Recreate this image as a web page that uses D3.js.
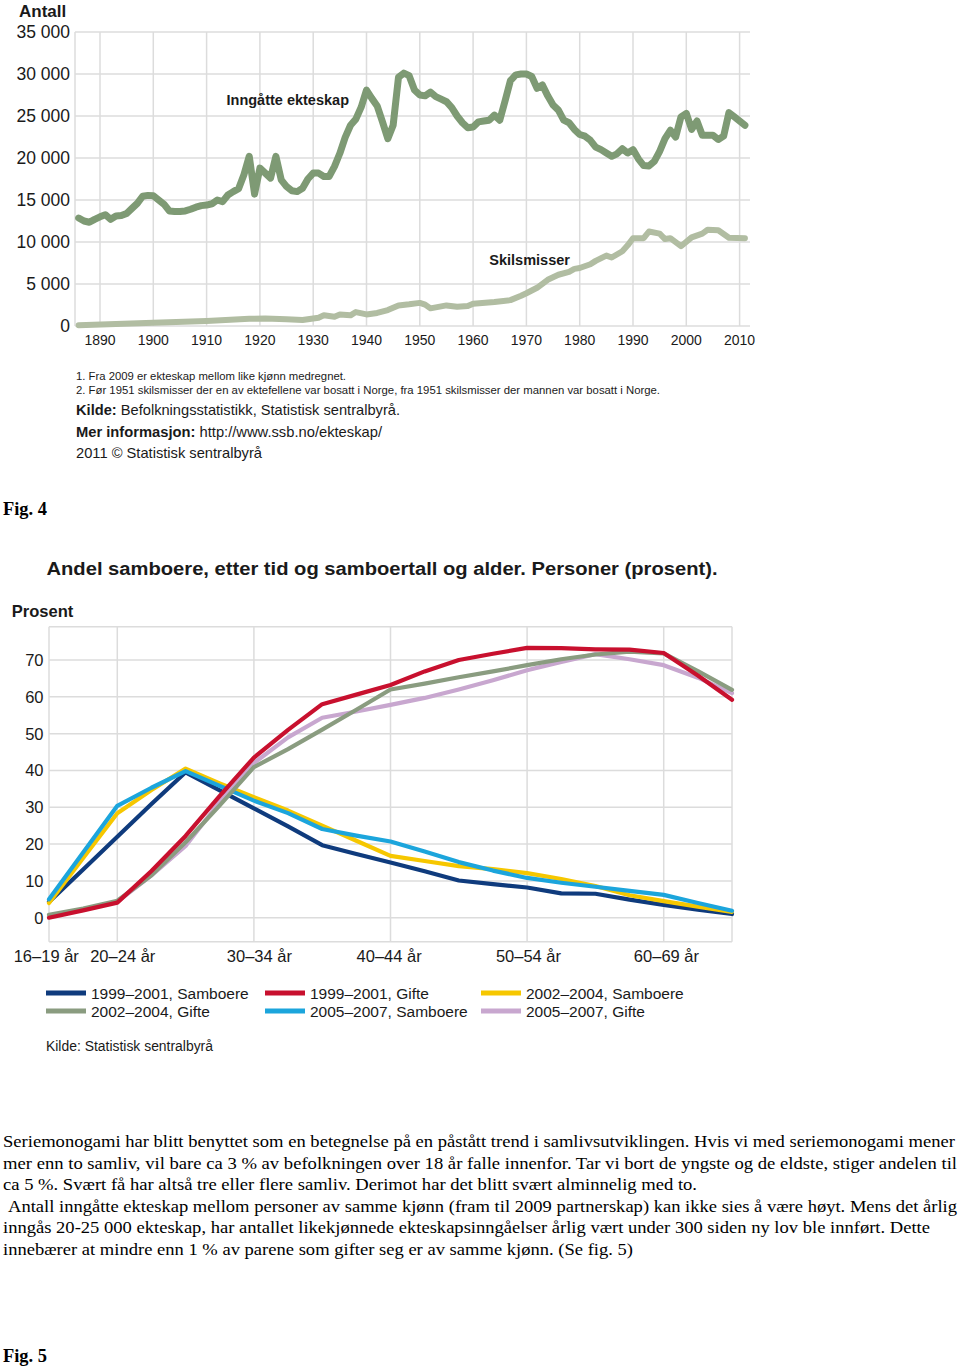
<!DOCTYPE html>
<html><head><meta charset="utf-8">
<script src="https://cdn.jsdelivr.net/npm/d3@7"></script>
<style>body{margin:0;background:#fff}svg{display:block}</style>
</head><body>
<svg id="c" width="960" height="1367"></svg>
<script>
// ---------- Chart 1 data: marriages (annual from 1886) and divorces ----------
const marriageStartYear = 1886;
const marriages = [
  12850,12500,12350,12700,13000,13250,12700,13100,13150,13400,
  14000,14600,15450,15550,15500,15000,14500,13700,13640,13640,
  13700,13900,14150,14330,14400,14550,15000,14800,15600,16000,
  16350,18000,20200,15700,18800,18200,17600,20200,17400,16600,
  16100,16000,16400,17500,18200,18200,17800,17800,19000,20560,
  22460,23900,24630,26050,28080,27100,26200,24300,22300,23900,
  29600,30100,29800,28100,27500,27400,27850,27300,27000,26700,
  26000,25000,24200,23600,23700,24300,24400,24500,25100,24500,
  26800,29200,29900,30000,30000,29700,28300,28700,27400,26300,
  25700,24500,24200,23400,22800,22600,22100,21300,21000,20600,
  20200,20500,21100,20600,21000,19900,19100,19060,19600,20800,
  22300,23300,22500,24900,25300,23400,24400,22700,22700,22700,
  22200,22600,25400,24900,24400,23900
];
const divorceYears = [1886,1900,1910,1918,1921,1925,1928,1931,1932,1934,1935,1937,1938,1940,1942,1944,1946,1948,1950,1951,1952,1955,1957,1959,1960,1964,1967,1969,1970,1972,1974,1976,1978,1979,1980,1982,1983,1985,1986,1988,1989,1990,1992,1993,1995,1996,1997,1999,2001,2003,2004,2006,2008,2011];
const divorces =     [100,400,600,870,880,800,710,990,1270,1110,1380,1270,1660,1380,1550,1900,2450,2580,2750,2550,2100,2450,2300,2370,2650,2850,3080,3600,3900,4550,5500,6100,6450,6800,6900,7350,7750,8380,8150,8900,9600,10450,10450,11250,11000,10350,10450,9500,10550,11000,11450,11400,10500,10450];
const yTicks1 = [0,5000,10000,15000,20000,25000,30000,35000];
const xTicks1 = [1890,1900,1910,1920,1930,1940,1950,1960,1970,1980,1990,2000,2010];

// ---------- Chart 2 data ----------
const ageTicks = [15,20,30,40,50,60];
const ageTickLabels = ["16–19 år","20–24 år","30–34 år","40–44 år","50–54 år","60–69 år"];
const ageTickLabelAt = [14.8,20.4,30.4,39.9,50.1,60.2];
const ages = [15,17.5,20,22.5,25,27.5,30,32.5,35,37.5,40,42.5,45,47.5,50,52.5,55,57.5,60,62.5,65];
const samb9901 = [4.3,13.1,22.0,30.9,39.5,34.6,29.7,24.8,19.7,17.3,15.0,12.6,10.1,9.1,8.2,6.6,6.5,4.9,3.5,2.2,1.0];
const gift9901 = [0,2.0,4.1,12.7,22.2,33.1,43.5,51.0,58.0,60.6,63.2,66.9,70.0,71.7,73.3,73.2,72.9,72.8,71.9,65.8,59.2];
const samb0204 = [4.0,16.2,28.4,34.7,40.5,36.5,32.7,29.1,25.0,20.9,16.8,15.4,14.0,13.2,12.1,10.5,8.6,6.1,4.5,3.0,1.6];
const gift0204 = [0.8,2.5,4.6,11.5,20.5,30.5,40.9,45.8,51.1,56.5,62.0,63.6,65.3,66.9,68.6,70.2,71.5,72.3,71.8,67.0,61.9];
const samb0507 = [5.0,17.7,30.4,35.3,39.8,35.8,31.8,28.4,24.1,22.3,20.7,18.0,15.1,12.8,10.8,9.5,8.4,7.3,6.2,4.0,1.9];
const gift0507 = [0.3,2.2,4.3,11.5,19.5,31.5,42.0,49.0,54.3,56.0,57.8,59.7,62.0,64.5,67.2,69.5,71.6,70.2,68.6,65.2,61.0];
const seriesNames = ["1999–2001, Samboere","1999–2001, Gifte","2002–2004, Samboere","2002–2004, Gifte","2005–2007, Samboere","2005–2007, Gifte"];
const yTicks2 = [0,10,20,30,40,50,60,70];

// ---------- Drawing ----------
const svg = d3.select("#c");
const SANS = "'Liberation Sans', Arial, Helvetica, sans-serif";
const SERIF = "'Liberation Serif', 'Times New Roman', Times, serif";
const GRID = "#dcdcdc";

function txt(x, y, s, o = {}) {
  const t = svg.append("text").attr("x", x).attr("y", y)
    .attr("font-family", o.family || SANS)
    .attr("font-size", o.size || 14)
    .attr("font-weight", o.weight || "normal")
    .attr("fill", o.fill || "#1a1a1a")
    .attr("text-anchor", o.anchor || "start");
  if (o.dy) t.attr("dy", o.dy);
  if (o.parts) {
    o.parts.forEach(p => t.append("tspan").attr("font-weight", p[1] ? "bold" : "normal").text(p[0]));
  } else t.text(s);
  if (o.len) t.attr("textLength", o.len).attr("lengthAdjust", "spacingAndGlyphs");
  t.attr("xml:space", "preserve").style("white-space", "pre");
  return t;
}

// ===== Chart 1 =====
const x1 = d3.scaleLinear().domain([1890, 2010]).range([100, 739.6]);
const y1 = d3.scaleLinear().domain([0, 35000]).range([326, 32]);
const L1 = 75, R1 = 750;
const g1 = svg.append("g");
g1.selectAll(".hg").data(yTicks1).join("line")
  .attr("x1", L1).attr("x2", R1).attr("y1", d => y1(d)).attr("y2", d => y1(d))
  .attr("stroke", GRID).attr("stroke-width", 1.5);
g1.selectAll(".vg").data(xTicks1).join("line")
  .attr("x1", d => x1(d)).attr("x2", d => x1(d)).attr("y1", y1(35000)).attr("y2", y1(0))
  .attr("stroke", GRID).attr("stroke-width", 1.5);
g1.append("line").attr("x1", L1).attr("x2", L1).attr("y1", y1(35000)).attr("y2", y1(0))
  .attr("stroke", GRID).attr("stroke-width", 1.5);

const fmt = d => d === 0 ? "0" : d3.format(",")(d).replace(",", " ");
yTicks1.forEach(d => txt(70, y1(d), fmt(d), {size: 17.5, anchor: "end", dy: "0.36em"}));
xTicks1.forEach(d => txt(x1(d), 345, String(d), {size: 14, anchor: "middle"}));
txt(19, 17, "Antall", {size: 17, weight: "bold"});

const line1 = d3.line().x(d => x1(d[0])).y(d => y1(d[1]));
const mData = marriages.map((v, i) => [marriageStartYear + i, v]);
const dData = divorceYears.map((yr, i) => [yr, divorces[i]]);
g1.append("path").attr("d", line1(dData)).attr("fill", "none")
  .attr("stroke", "#b1bda2").attr("stroke-width", 6)
  .attr("stroke-linejoin", "round").attr("stroke-linecap", "round");
g1.append("path").attr("d", line1(mData)).attr("fill", "none")
  .attr("stroke", "#7e9a74").attr("stroke-width", 7)
  .attr("stroke-linejoin", "round").attr("stroke-linecap", "round");

txt(226.5, 104.5, "Inngåtte ekteskap", {size: 14.5, weight: "bold", len: 122.5});
txt(489.3, 265, "Skilsmisser", {size: 14.5, weight: "bold", len: 80.7});

txt(76, 380, "1. Fra 2009 er ekteskap mellom like kjønn medregnet.", {size: 11.5, len: 270});
txt(76, 393.5, "2. Før 1951 skilsmisser der en av ektefellene var bosatt i Norge, fra 1951 skilsmisser der mannen var bosatt i Norge.", {size: 11.5, len: 584});
txt(76, 415, "", {size: 14.5, len: 324, parts: [["Kilde:", true], [" Befolkningsstatistikk, Statistisk sentralbyrå.", false]]});
txt(76, 437, "", {size: 14.5, len: 306, parts: [["Mer informasjon:", true], [" http://www.ssb.no/ekteskap/", false]]});
txt(76, 458, "2011 © Statistisk sentralbyrå", {size: 14.5, len: 186});

txt(3, 515, "Fig. 4", {family: SERIF, size: 18, weight: "bold", fill: "#000", len: 44});

// ===== Chart 2 =====
const x2 = d3.scaleLinear().domain([15, 65]).range([49, 732]);
const y2 = d3.scaleLinear().domain([0, 70]).range([917.7, 660]);
const T2 = 626.7, B2 = 941.7;
const g2 = svg.append("g");
g2.selectAll(".hg").data(yTicks2).join("line")
  .attr("x1", x2(15)).attr("x2", x2(65)).attr("y1", d => y2(d)).attr("y2", d => y2(d))
  .attr("stroke", GRID).attr("stroke-width", 1.5);
[T2, B2].forEach(yy => g2.append("line").attr("x1", x2(15)).attr("x2", x2(65)).attr("y1", yy).attr("y2", yy)
  .attr("stroke", GRID).attr("stroke-width", 1.5));
g2.selectAll(".vg").data(ageTicks.concat([65])).join("line")
  .attr("x1", d => x2(d)).attr("x2", d => x2(d)).attr("y1", T2).attr("y2", B2)
  .attr("stroke", GRID).attr("stroke-width", 1.5);

yTicks2.forEach(d => txt(43.5, y2(d), String(d), {size: 16.5, anchor: "end", dy: "0.36em"}));
ageTickLabelAt.forEach((a, i) => txt(x2(a), 962, ageTickLabels[i], {size: 16.5, anchor: "middle"}));

txt(46.5, 575, "Andel samboere, etter tid og samboertall og alder. Personer (prosent).", {size: 17.5, weight: "bold", len: 671});
txt(11.7, 616.5, "Prosent", {size: 16.5, weight: "bold", len: 61.6});

const colors = ["#0f3b7d", "#c8102e", "#f6c700", "#8a9c80", "#1ca5dc", "#c8a7cf"];
const allSeries = [samb9901, gift9901, samb0204, gift0204, samb0507, gift0507];
const drawOrder = [0, 2, 4, 5, 3, 1];
const line2 = d3.line().x((d, i) => x2(ages[i])).y(d => y2(d));
drawOrder.forEach(k => {
  g2.append("path").attr("d", line2(allSeries[k])).attr("fill", "none")
    .attr("stroke", colors[k]).attr("stroke-width", 4.2)
    .attr("stroke-linejoin", "round").attr("stroke-linecap", "round");
});

// Legend
const legX = [46, 265, 481];
const legY = [993, 1011];
seriesNames.forEach((n, i) => {
  const col = i % 3, row = Math.floor(i / 3);
  svg.append("rect").attr("x", legX[col]).attr("y", legY[row] - 2.5).attr("width", 40).attr("height", 5).attr("fill", colors[i]);
  txt(legX[col] + 45, legY[row] + 5.5, n, {size: 15.5});
});
txt(46, 1051, "Kilde: Statistisk sentralbyrå", {size: 14, len: 167});

// ===== Body text =====
const bodyLines = [
  ["Seriemonogami har blitt benyttet som en betegnelse på en påstått trend i samlivsutviklingen. Hvis vi med seriemonogami mener", 3, 952],
  ["mer enn to samliv, vil bare ca 3 % av befolkningen over 18 år falle innenfor. Tar vi bort de yngste og de eldste, stiger andelen til", 3, 954],
  ["ca 5 %. Svært få har altså tre eller flere samliv. Derimot har det blitt svært alminnelig med to.", 3, 694],
  ["Antall inngåtte ekteskap mellom personer av samme kjønn (fram til 2009 partnerskap) kan ikke sies å være høyt. Mens det årlig", 8, 949],
  ["inngås 20-25 000 ekteskap, har antallet likekjønnede ekteskapsinngåelser årlig vært under 300 siden ny lov ble innført. Dette", 3, 927],
  ["innebærer at mindre enn 1 % av parene som gifter seg er av samme kjønn. (Se fig. 5)", 3, 630]
];
const bodyY = [1147, 1168.5, 1190, 1211.5, 1233, 1254.5];
bodyLines.forEach((l, i) => txt(l[1], bodyY[i], l[0], {family: SERIF, size: 17.5, fill: "#000", len: l[2]}));

txt(3, 1362, "Fig. 5", {family: SERIF, size: 18, weight: "bold", fill: "#000", len: 44});
</script>
</body></html>
